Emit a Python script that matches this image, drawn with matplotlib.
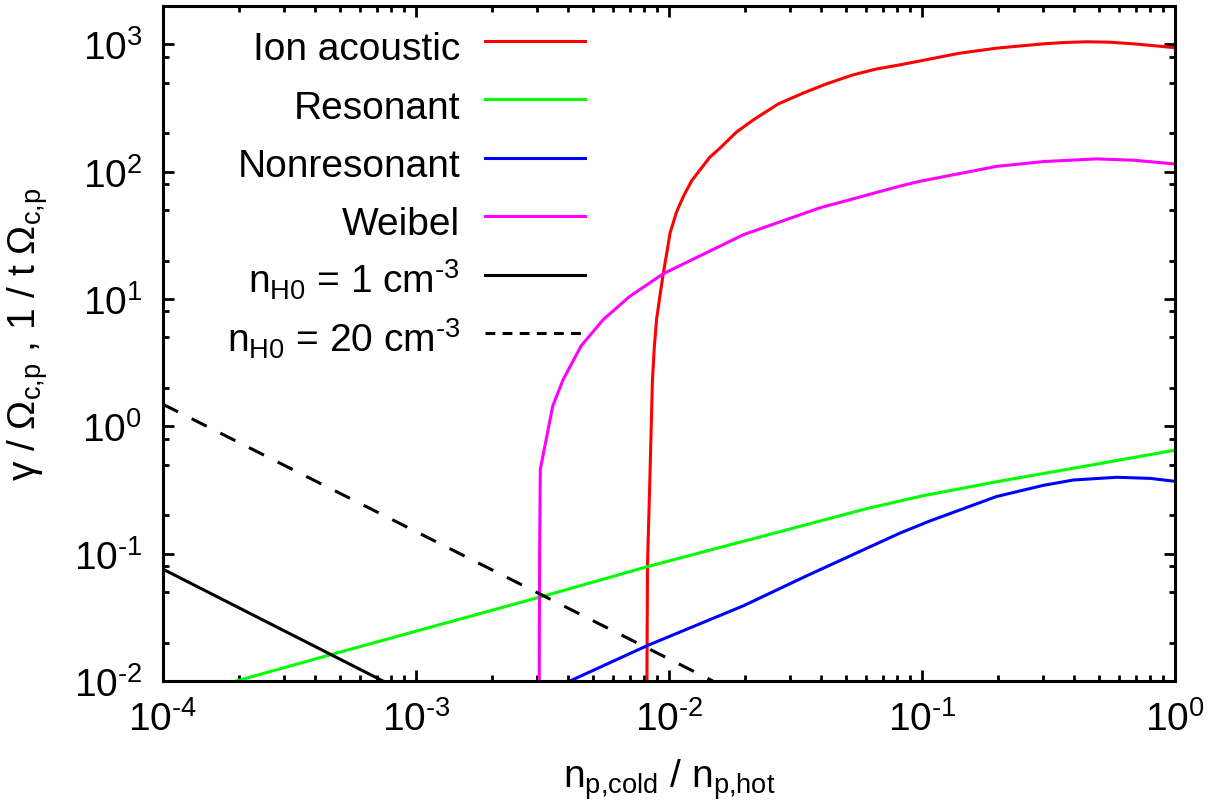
import matplotlib
matplotlib.use("Agg")
import numpy as np
import matplotlib.pyplot as plt
from matplotlib.lines import Line2D
from matplotlib.ticker import LogLocator, NullFormatter, FuncFormatter

# Valeurs (axes log-log)
x_ion = [8.18e-3, 8.22e-3, 8.4e-3, 8.6e-3, 8.75e-3, 8.93e-3, 9.2e-3, 9.5e-3, 9.8e-3, 0.0101,
         0.0107, 0.0114, 0.0123, 0.0133, 0.0145, 0.0159, 0.0185, 0.0216, 0.027, 0.0339,
         0.042, 0.0534, 0.066, 0.0818, 0.098, 0.14, 0.197, 0.25, 0.302, 0.37, 0.448,
         0.55, 0.684, 0.83, 1.0]
y_ion = [0.01, 0.08, 0.38, 2.3, 4.2, 6.9, 10.5, 16.0, 23.0, 33.0,
         48.0, 64.0, 85.0, 104.0, 130.0, 153.0, 205.0, 256.0, 340.0, 414.0,
         490.0, 576.0, 640.0, 690.0, 740.0, 850.0, 933.0, 975.0, 1009.0, 1035.0, 1047.0,
         1040.0, 1009.0, 975.0, 940.0]

x_res = [1.95e-4, 4.71e-4, 3.39e-3, 8.2e-3, 0.03, 0.06, 0.1, 0.2, 0.4, 1.0]
y_res = [0.01, 0.0163, 0.048, 0.079, 0.156, 0.225, 0.284, 0.369, 0.47, 0.65]

x_non = [4.06e-3, 8.17e-3, 0.0197, 0.035, 0.0818, 0.1077, 0.197, 0.302, 0.397, 0.589, 0.8, 1.0]
y_non = [0.01, 0.0189, 0.039, 0.067, 0.145, 0.181, 0.281, 0.344, 0.379, 0.398, 0.39, 0.37]

x_wei = [3.07e-3, 3.08e-3, 3.1e-3, 3.47e-3, 3.82e-3, 4.5e-3, 5.5e-3, 7.0e-3, 9.5e-3,
         0.0197, 0.0395, 0.0818, 0.098, 0.197, 0.302, 0.49, 0.684, 1.0]
y_wei = [0.01, 0.1, 0.46, 1.44, 2.34, 4.3, 6.9, 10.5, 15.8,
         32.0, 52.0, 77.0, 84.0, 110.0, 120.0, 126.0, 123.0, 115.0]

x_h1 = [1e-4, 7.4e-4]
y_h1 = [0.0755, 0.01]

x_h20 = [1e-4, 0.0149]
y_h20 = [1.49, 0.01]

labels = ["Ion acoustic", "Resonant", "Nonresonant", "Weibel",
          r"n$_\mathrm{H0}$ = 1 cm$^{\text{-}3}$", r"n$_\mathrm{H0}$ = 20 cm$^{\text{-}3}$"]

plt.rcParams["font.family"] = ["Liberation Sans", "DejaVu Sans"]
plt.rcParams["mathtext.fontset"] = "custom"
plt.rcParams["mathtext.rm"] = "Liberation Sans"
plt.rcParams["mathtext.it"] = "Liberation Sans:italic"
plt.rcParams["mathtext.bf"] = "Liberation Sans:bold"
plt.rcParams["font.size"] = 28


def puissance(v, pos):
    e = int(round(np.log10(v)))
    if e < 0:
        return r"10$^{\text{-}%d}$" % (-e)
    return r"10$^{%d}$" % e


fig = plt.figure(figsize=(12.17, 8.12), dpi=100)
ax = fig.add_axes([163 / 1217, 1 - 682 / 812, 1012 / 1217, 675 / 812])

lw = 2.2
l1, = ax.plot(x_ion, y_ion, color="#ff0000", lw=lw)
l2, = ax.plot(x_res, y_res, color="#00ff00", lw=lw)
l3, = ax.plot(x_non, y_non, color="#0000ff", lw=lw)
l4, = ax.plot(x_wei, y_wei, color="#ff00ff", lw=lw)
l5, = ax.plot(x_h1, y_h1, color="black", lw=lw)
l6, = ax.plot(x_h20, y_h20, color="black", lw=lw, dashes=(5.5, 5))

ax.set_xscale("log")
ax.set_yscale("log")
ax.set_xlim(1e-4, 1)
ax.set_ylim(1e-2, 2e3)

ax.xaxis.set_major_locator(LogLocator(base=10, numticks=10))
ax.xaxis.set_minor_locator(LogLocator(base=10, subs=range(2, 10), numticks=20))
ax.yaxis.set_major_locator(LogLocator(base=10, numticks=10))
ax.yaxis.set_minor_locator(LogLocator(base=10, subs=[2, 5, 8], numticks=20))
ax.xaxis.set_major_formatter(FuncFormatter(puissance))
ax.yaxis.set_major_formatter(FuncFormatter(puissance))
ax.xaxis.set_minor_formatter(NullFormatter())
ax.yaxis.set_minor_formatter(NullFormatter())

ax.tick_params(which="both", direction="in", top=True, right=True, width=2)
ax.tick_params(which="major", length=8)
ax.tick_params(which="minor", length=4)
ax.tick_params(axis="x", which="major", pad=14)
ax.tick_params(axis="y", which="major", pad=15)
for s in ax.spines.values():
    s.set_linewidth(2.2)

ax.set_xlabel(r"n$_\mathrm{p{,}cold}$ / n$_\mathrm{p{,}hot}$")
ax.set_ylabel(r"γ / Ω$_\mathrm{c{,}p}$ , 1 / t Ω$_\mathrm{c{,}p}$")
ax.xaxis.set_label_coords(0.5, -0.112)
ax.yaxis.set_label_coords(-0.112, 0.515)

proxy = Line2D([], [], color="black", lw=lw, dashes=(3.2, 2.4))
ax.legend([l1, l2, l3, l4, l5, proxy], labels, loc="upper right",
          bbox_to_anchor=(0.417, 0.975), frameon=False, markerfirst=False,
          borderpad=0, borderaxespad=0, handlelength=2.57, handletextpad=0.64,
          labelspacing=0.3, handleheight=1.474)

fig.savefig("out.png", dpi=100)
